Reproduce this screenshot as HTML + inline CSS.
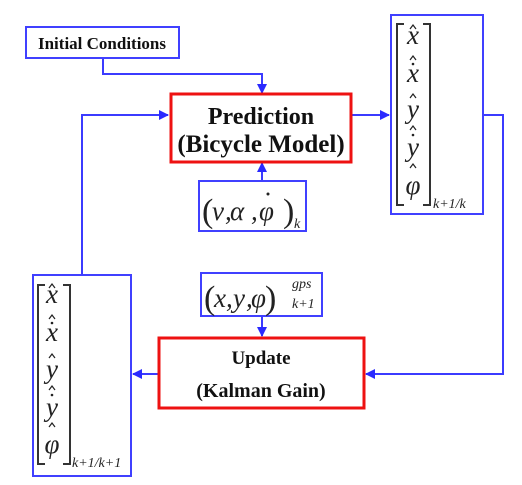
<!DOCTYPE html>
<html><head><meta charset="utf-8"><style>
html,body{margin:0;padding:0;background:#fff;}
svg{display:block;}
.m{font-family:"Liberation Serif",serif;font-style:italic;font-size:27px;fill:#222;}
.p{font-family:"Liberation Serif",serif;font-size:34px;fill:#222;}
.b{font-family:"Liberation Serif",serif;font-weight:bold;fill:#111;}
.s{font-family:"Liberation Serif",serif;font-style:italic;font-size:14px;fill:#222;}
.hat{fill:none;stroke:#222;stroke-width:1.2;}
</style></head><body>
<svg width="522" height="485" viewBox="0 0 522 485" xmlns="http://www.w3.org/2000/svg">
<defs><marker id="ar" markerWidth="10" markerHeight="10" refX="9" refY="5" orient="auto" markerUnits="userSpaceOnUse"><path d="M0,0 L10,5 L0,10 z" fill="#2a2aff"/></marker></defs>
<g stroke="#3b3bff" stroke-width="2" fill="none">
<polyline points="103,58 103,74 262,74 262,93" marker-end="url(#ar)"/>
<polyline points="351,115 389,115" marker-end="url(#ar)"/>
<polyline points="483,115 503,115 503,374 366,374" marker-end="url(#ar)"/>
<polyline points="262,181 262,163" marker-end="url(#ar)"/>
<polyline points="82,275 82,115 168,115" marker-end="url(#ar)"/>
<polyline points="262,316 262,336" marker-end="url(#ar)"/>
<polyline points="158,374 133,374" marker-end="url(#ar)"/>
</g>
<g>
<rect x="26" y="27" width="153" height="31" fill="#fff" stroke="#4040ff" stroke-width="2"/>
<text x="102" y="49" text-anchor="middle" class="b" font-size="17">Initial Conditions</text>
</g>
<g>
<rect x="171" y="94" width="180" height="68" fill="#fff" stroke="#ee1111" stroke-width="3"/>
<text x="261" y="124" text-anchor="middle" class="b" font-size="24">Prediction</text>
<text x="261" y="152" text-anchor="middle" class="b" font-size="25">(Bicycle Model)</text>
</g>
<g>
<rect x="199" y="181" width="107" height="50" fill="#fff" stroke="#4040ff" stroke-width="2"/>
<text x="202" y="222" class="p">(</text>
<text x="212" y="220" class="m">v</text>
<text x="225" y="220" class="m">,</text>
<text x="230" y="220" class="m">α</text>
<text x="251" y="220" class="m">,</text>
<text x="259" y="220" class="m">φ</text>
<circle cx="268" cy="194" r="1.5" fill="#222"/>
<text x="283" y="222" class="p">)</text>
<text x="294" y="228" class="s" font-size="11">k</text>
</g>
<g>
<rect x="391" y="15" width="92" height="199" fill="#fff" stroke="#4040ff" stroke-width="2"/>
<path d="M404,24 L397,24 L397,205 L404,205 M423,24 L430,24 L430,205 L423,205" fill="none" stroke="#333" stroke-width="2"/>
<text x="413" y="44" text-anchor="middle" class="m">x</text>
<path class="hat" d="M410,29 L413,25 L416,29"/>
<text x="413" y="82" text-anchor="middle" class="m">x</text>
<path class="hat" d="M410,60 L413,56 L416,60"/><circle cx="413" cy="64" r="1.3" fill="#222"/>
<text x="413" y="118" text-anchor="middle" class="m">y</text>
<path class="hat" d="M410,98 L413,94 L416,98"/>
<text x="413" y="156" text-anchor="middle" class="m">y</text>
<path class="hat" d="M410,130 L413,126 L416,130"/><circle cx="413" cy="135" r="1.3" fill="#222"/>
<text x="413" y="194" text-anchor="middle" class="m">φ</text>
<path class="hat" d="M410,168 L413,164 L416,168"/>
<text x="433" y="208" class="s">k+1/k</text>
</g>
<g>
<rect x="201" y="273" width="121" height="43" fill="#fff" stroke="#4040ff" stroke-width="2"/>
<text x="204" y="309" class="p">(</text>
<text x="214" y="307" class="m">x</text>
<text x="226" y="307" class="m">,</text>
<text x="233" y="307" class="m">y</text>
<text x="246" y="307" class="m">,</text>
<text x="251" y="307" class="m">φ</text>
<text x="265" y="309" class="p">)</text>
<text x="292" y="288" class="s" font-size="12">gps</text>
<text x="292" y="308" class="s" font-size="12">k+1</text>
</g>
<g>
<rect x="159" y="338" width="205" height="70" fill="#fff" stroke="#ee1111" stroke-width="3"/>
<text x="261" y="364" text-anchor="middle" class="b" font-size="19">Update</text>
<text x="261" y="397" text-anchor="middle" class="b" font-size="20">(Kalman Gain)</text>
</g>
<g>
<rect x="33" y="275" width="98" height="201" fill="#fff" stroke="#4040ff" stroke-width="2"/>
<path d="M45,285 L38,285 L38,464 L45,464 M63,285 L70,285 L70,464 L63,464" fill="none" stroke="#333" stroke-width="2"/>
<text x="52" y="303" text-anchor="middle" class="m">x</text>
<path class="hat" d="M49,288 L52,284 L55,288"/>
<text x="52" y="341" text-anchor="middle" class="m">x</text>
<path class="hat" d="M49,319 L52,315 L55,319"/><circle cx="52" cy="323" r="1.3" fill="#222"/>
<text x="52" y="378" text-anchor="middle" class="m">y</text>
<path class="hat" d="M49,358 L52,354 L55,358"/>
<text x="52" y="416" text-anchor="middle" class="m">y</text>
<path class="hat" d="M49,390 L52,386 L55,390"/><circle cx="52" cy="395" r="1.3" fill="#222"/>
<text x="52" y="453" text-anchor="middle" class="m">φ</text>
<path class="hat" d="M49,427 L52,423 L55,427"/>
<text x="72" y="467" class="s">k+1/k+1</text>
</g>
</svg>
</body></html>
